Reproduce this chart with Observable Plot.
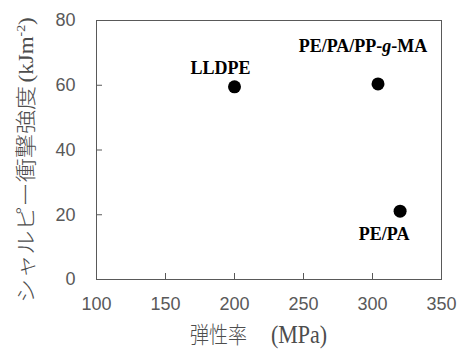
<!DOCTYPE html>
<html>
<head>
<meta charset="utf-8">
<script src="https://cdn.jsdelivr.net/npm/d3@7"></script>
<script src="https://cdn.jsdelivr.net/npm/@observablehq/plot@0.6"></script>
<style>
  html, body { margin: 0; padding: 0; background: white; }
</style>
</head>
<body>
<div id="chart"></div>
<script>
// Data
const materials = ["LLDPE", "PE/PA/PP-g-MA", "PE/PA"];
const modulus = [200, 304, 320];      // 弾性率 (MPa)
const impact = [59.5, 60.4, 21.1];    // シャルピー衝撃強度 (kJm-2)
const xTicks = [100, 150, 200, 250, 300, 350];
const yTicks = [0, 20, 40, 60, 80];
const xTitle = ["弾性率", "(MPa)"];
const yTitle = ["シャルピー衝撃強度", "(kJm", "-2", ")"];

const data = materials.map((m, i) => ({name: m, x: modulus[i], y: impact[i]}));

const labelStyle = {
  fontFamily: "Liberation Serif",
  fontSize: 18,
  fontWeight: "bold",
  fill: "black",
  text: "name",
  x: "x",
  y: "y"
};

const chart = Plot.plot({
  width: 457,
  height: 349,
  marginLeft: 96,
  marginRight: 16,
  marginTop: 20,
  marginBottom: 70,
  style: {fontFamily: "Liberation Sans", background: "white"},
  x: {domain: [100, 350], ticks: xTicks},
  y: {domain: [0, 80], ticks: yTicks},
  marks: [
    Plot.axisX({ticks: xTicks, tickSize: 0, tickPadding: 18, fontSize: 18, fill: "#595959", label: null}),
    Plot.axisX({ticks: xTicks, tickSize: -6, tickFormat: () => "", stroke: "#595959", label: null}),
    Plot.axisY({ticks: yTicks, tickSize: 0, tickPadding: 21, fontSize: 18, fill: "#595959", label: null}),
    Plot.axisY({ticks: yTicks, tickSize: -6, tickFormat: () => "", stroke: "#595959", label: null}),
    Plot.frame({stroke: "#595959"}),
    Plot.dot(data, {x: "x", y: "y", r: 6.5, fill: "black", stroke: "none"}),
    Plot.text(data.filter(d => d.name === "LLDPE"), {...labelStyle, dx: -14, dy: -19}),
    Plot.text(data.filter(d => d.name === "PE/PA/PP-g-MA"), {...labelStyle, dx: -15, dy: -38}),
    Plot.text(data.filter(d => d.name === "PE/PA"), {...labelStyle, dx: -16, dy: 23})
  ]
});

document.getElementById("chart").appendChild(chart);

const svg = d3.select(chart);

// Italicize the "g" in PP-g-MA
svg.selectAll("text").each(function() {
  const t = d3.select(this);
  const s = t.text();
  if (s === "PE/PA/PP-g-MA") {
    t.text("");
    t.append("tspan").text("PE/PA/PP-");
    t.append("tspan").attr("font-style", "italic").text("g");
    t.append("tspan").text("-MA");
  }
});

const cjk = "Noto Sans CJK JP, Noto Sans CJK SC, sans-serif";
const serif = "Liberation Serif, serif";

// X title
const xt = svg.append("text")
  .attr("transform", "translate(190,343) scale(1,1.18)")
  .attr("text-anchor", "start")
  .attr("fill", "#4d4d4d");
xt.append("tspan").style("font-family", cjk).style("font-weight", 300).style("font-size", "19px").text(xTitle[0]);
xt.append("tspan").style("font-family", serif).style("font-size", "22px").attr("dx", 24).text(xTitle[1]);

// Y title
const yt = svg.append("text")
  .attr("transform", "translate(33,303) rotate(-90) scale(1.15,1)")
  .attr("text-anchor", "start")
  .attr("fill", "#4d4d4d");
yt.append("tspan").style("font-family", cjk).style("font-weight", 300).style("font-size", "21px").text(yTitle[0]);
yt.append("tspan").style("font-family", serif).style("font-size", "20px").attr("dx", 3).text(yTitle[1]);
yt.append("tspan").style("font-family", serif).style("font-size", "12px").attr("dy", -8).text(yTitle[2]);
yt.append("tspan").style("font-family", serif).style("font-size", "20px").attr("dy", 8).text(yTitle[3]);
</script>
</body>
</html>
